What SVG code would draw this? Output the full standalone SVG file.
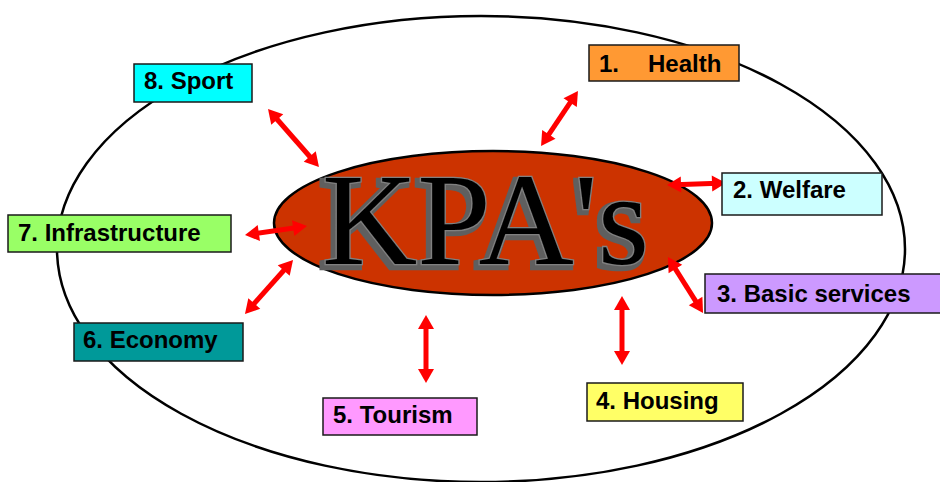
<svg xmlns="http://www.w3.org/2000/svg" width="940" height="482" viewBox="0 0 940 482">
  <style>
    .frame { fill: none; stroke: #000; stroke-width: 2.5; }
    .core { fill: #CC3300; stroke: #000; stroke-width: 2.5; }
    .box { stroke: #1a1a1a; stroke-width: 1.5; }
    .label { font-family: "Liberation Sans", Arial, sans-serif; font-weight: bold; font-size: 24px; fill: #000; }
    .title { font-family: "Liberation Serif", "Times New Roman", serif; font-size: 132px; fill: #050505; stroke: #808080; stroke-width: 2.6; paint-order: stroke; filter: url(#bevel); }
    .link { stroke: #FF0000; stroke-width: 5; fill: none; marker-start: url(#head); marker-end: url(#head); }
  </style>
  <defs>
    <marker id="head" markerUnits="userSpaceOnUse" markerWidth="16" markerHeight="18" viewBox="0 -9 15 18" refX="6" refY="0" orient="auto-start-reverse">
      <path d="M0,-8 L14,0 L0,8 Z" fill="#FF0000"/>
    </marker>
    <!-- grey extruded edge behind the lettering -->
    <filter id="bevel" x="-10%" y="-10%" width="120%" height="130%">
      <feMorphology in="SourceAlpha" operator="dilate" radius="2" result="fat"/>
      <feOffset in="fat" dx="-3" dy="3" result="shifted"/>
      <feFlood flood-color="#5e5e5e"/>
      <feComposite in2="shifted" operator="in" result="edge"/>
      <feMerge>
        <feMergeNode in="edge"/>
        <feMergeNode in="SourceGraphic"/>
      </feMerge>
    </filter>
  </defs>

  <!-- outer boundary -->
  <ellipse class="frame" cx="481" cy="249" rx="424" ry="233"/>

  <!-- central hub -->
  <g id="kpas">
    <ellipse class="core" cx="493" cy="223" rx="219" ry="72"/>
    <text class="title" x="322" y="264">KPA's</text>
  </g>

  <!-- two-way links between hub and areas -->
  <g id="connectors">
    <line class="link" x1="573.5" y1="97.6" x2="545.5" y2="139.4"/>
    <line class="link" x1="675" y1="184.7" x2="718" y2="183.3"/>
    <line class="link" x1="672.2" y1="263.8" x2="698.8" y2="306.2"/>
    <line class="link" x1="622" y1="304" x2="622" y2="357"/>
    <line class="link" x1="426" y1="323" x2="426" y2="375"/>
    <line class="link" x1="287.7" y1="266" x2="250.3" y2="308"/>
    <line class="link" x1="252.9" y1="233.9" x2="299.1" y2="227.2"/>
    <line class="link" x1="273.3" y1="115" x2="313.7" y2="161"/>
  </g>

  <!-- key performance areas -->
  <g id="health">
    <rect class="box" x="589" y="45" width="150" height="36" fill="#FF9933"/>
    <text class="label" x="599" y="72">1.<tspan x="648">Health</tspan></text>
  </g>
  <g id="welfare">
    <rect class="box" x="722" y="173" width="160" height="42" fill="#CCFFFF"/>
    <text class="label" x="733" y="198">2. Welfare</text>
  </g>
  <g id="basic-services">
    <rect class="box" x="705" y="274" width="240" height="39" fill="#CC99FF"/>
    <text class="label" x="717" y="302">3. Basic services</text>
  </g>
  <g id="housing">
    <rect class="box" x="587" y="383" width="156" height="38" fill="#FFFF66"/>
    <text class="label" x="596" y="409">4. Housing</text>
  </g>
  <g id="tourism">
    <rect class="box" x="323" y="398" width="154" height="37" fill="#FF99FF"/>
    <text class="label" x="333" y="423">5. Tourism</text>
  </g>
  <g id="economy">
    <rect class="box" x="74" y="323" width="169" height="38" fill="#009999"/>
    <text class="label" x="83" y="348">6. Economy</text>
  </g>
  <g id="infrastructure">
    <rect class="box" x="8" y="215" width="223" height="37" fill="#99FF66"/>
    <text class="label" x="18" y="241">7. Infrastructure</text>
  </g>
  <g id="sport">
    <rect class="box" x="134" y="64" width="118" height="38" fill="#00FFFF"/>
    <text class="label" x="144" y="89">8. Sport</text>
  </g>
</svg>
